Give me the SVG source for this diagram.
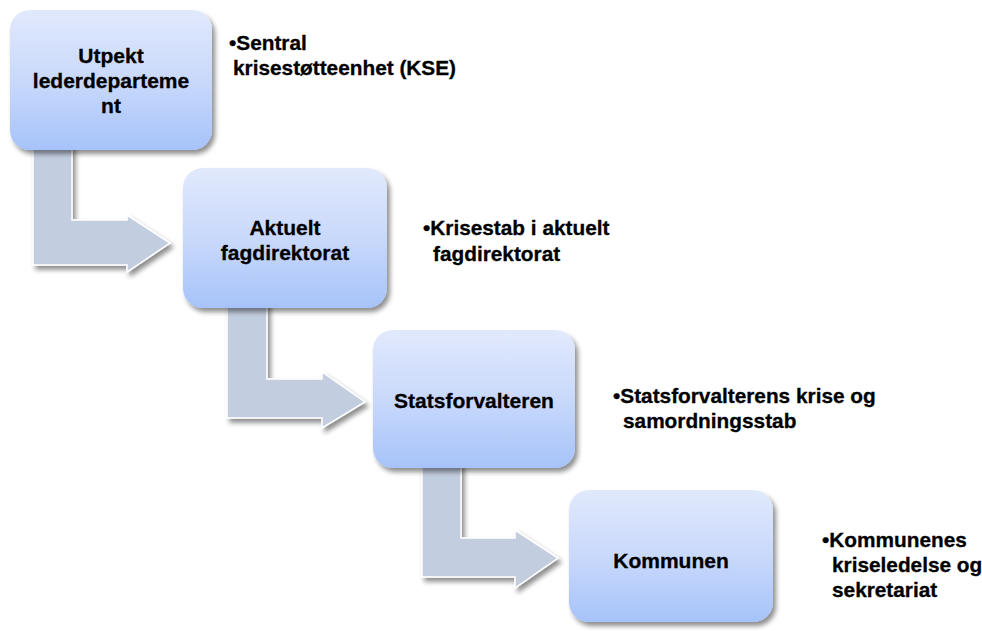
<svg xmlns="http://www.w3.org/2000/svg" width="982" height="631" viewBox="0 0 982 631">
<defs>
<linearGradient id="boxg" x1="0" y1="0" x2="0" y2="1">
<stop offset="0" stop-color="#e1e9fc"/>
<stop offset="0.5" stop-color="#c9d9fb"/>
<stop offset="1" stop-color="#a6c3fa"/>
</linearGradient>
<filter id="shadow" x="-20%" y="-20%" width="140%" height="140%">
<feGaussianBlur in="SourceAlpha" stdDeviation="2.5"/>
<feOffset dx="3" dy="4" result="b"/>
<feComponentTransfer><feFuncA type="linear" slope="0.45"/></feComponentTransfer>
<feMerge><feMergeNode/><feMergeNode in="SourceGraphic"/></feMerge>
</filter>
</defs>
<style>
.box{fill:url(#boxg);filter:url(#shadow);}
.arrow{fill:#c3cde0;stroke:#ffffff;stroke-width:1.5;filter:url(#shadow);}
.lbl{font-family:"Liberation Sans",Arial,sans-serif;font-weight:bold;font-size:21px;fill:#000;stroke:#000;stroke-width:0.3;text-anchor:middle;}
.txt{font-family:"Liberation Sans",Arial,sans-serif;font-weight:bold;font-size:20.8px;fill:#000;stroke:#000;stroke-width:0.3;}
</style>
<rect width="982" height="631" fill="#ffffff"/>
<g id="connectors">
<path class="arrow" d="M33,145 L33,265 L127,265 L127,272 L170,243 L127,215 L127,220 L72,220 L72,145 Z"/>
<path class="arrow" d="M227,300 L227,418 L322,418 L322,428 L365,402 L322,372 L322,379 L267,379 L267,300 Z"/>
<path class="arrow" d="M422,462 L422,577 L515,577 L515,588 L558,558 L515,530 L515,538 L461,538 L461,462 Z"/>
</g>
<g id="node1">
<rect class="box" x="10" y="10" width="202" height="140" rx="20"/>
<text class="lbl" x="111" y="63">Utpekt</text>
<text class="lbl" x="111" y="88">lederdeparteme</text>
<text class="lbl" x="111" y="113">nt</text>
</g>
<g id="node2">
<rect class="box" x="183" y="168" width="204" height="140" rx="20"/>
<text class="lbl" x="285" y="235">Aktuelt</text>
<text class="lbl" x="285" y="260">fagdirektorat</text>
</g>
<g id="node3">
<rect class="box" x="373" y="330" width="202" height="138" rx="20"/>
<text class="lbl" x="474" y="408">Statsforvalteren</text>
</g>
<g id="node4">
<rect class="box" x="569" y="490" width="204" height="132" rx="20"/>
<text class="lbl" x="671" y="568">Kommunen</text>
</g>
<g id="notes">
<text class="txt" x="229" y="50">•Sentral</text>
<text class="txt" x="233" y="75">krisestøtteenhet (KSE)</text>
<text class="txt" x="423" y="235">•Krisestab i aktuelt</text>
<text class="txt" x="433" y="261">fagdirektorat</text>
<text class="txt" x="613" y="403">•Statsforvalterens krise og</text>
<text class="txt" x="623" y="428">samordningsstab</text>
<text class="txt" x="822" y="547">•Kommunenes</text>
<text class="txt" x="832" y="572">kriseledelse og</text>
<text class="txt" x="832" y="597">sekretariat</text>
</g>
</svg>
